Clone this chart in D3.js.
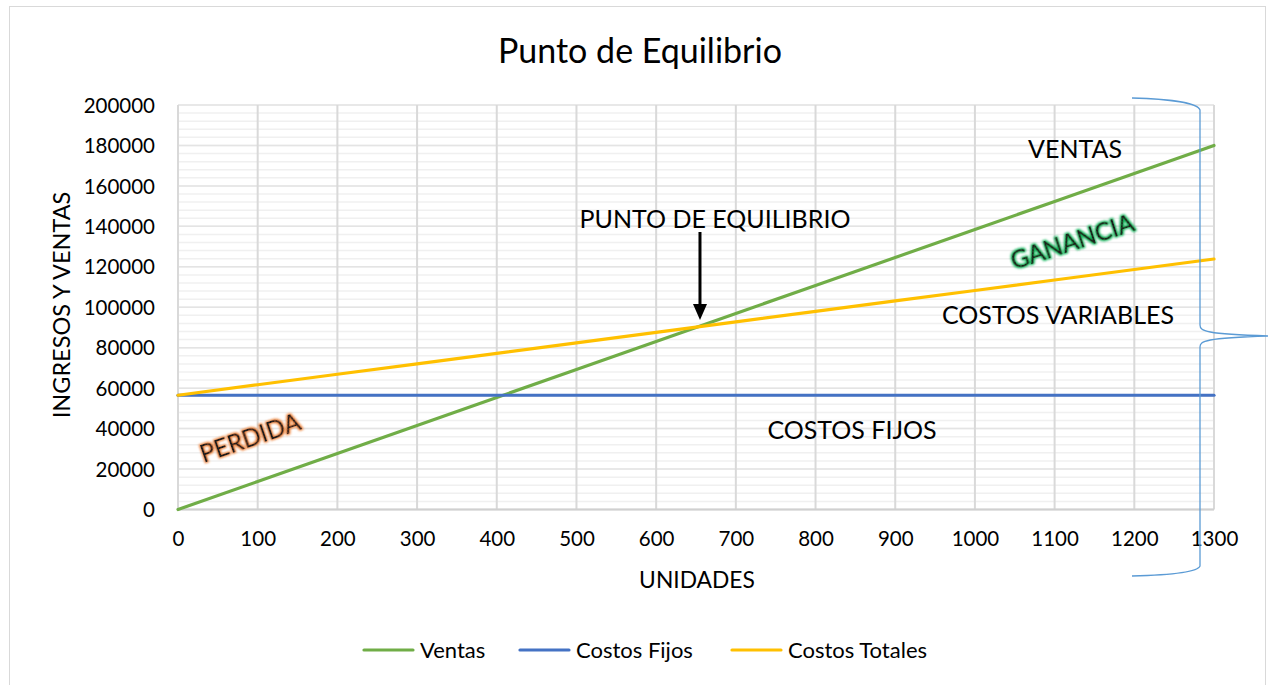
<!DOCTYPE html>
<html>
<head>
<meta charset="utf-8">
<script src="https://cdn.jsdelivr.net/npm/d3@7/dist/d3.min.js"></script>
<style>
  html, body { margin: 0; padding: 0; background: #fff; }
  svg { display: block; font-family: "Lato", "Open Sans", sans-serif; }
</style>
</head>
<body>
<svg id="chart" width="1268" height="685"></svg>
<script>
// Break-even data (units on x, money on y)
const unidades = [0, 100, 200, 300, 400, 500, 600, 700, 800, 900, 1000, 1100, 1200, 1300];
const ventas = [0, 13846, 27692, 41538, 55385, 69231, 83077, 96923, 110769, 124615, 138462, 152308, 166154, 180000];
const costosFijos = [56500, 56500, 56500, 56500, 56500, 56500, 56500, 56500, 56500, 56500, 56500, 56500, 56500, 56500];
const costosTotales = [56500, 61680, 66860, 72040, 77220, 82400, 87580, 92760, 97940, 103120, 108300, 113480, 118660, 123840];
const yTicks = [0, 20000, 40000, 60000, 80000, 100000, 120000, 140000, 160000, 180000, 200000];
const xTicks = [0, 100, 200, 300, 400, 500, 600, 700, 800, 900, 1000, 1100, 1200, 1300];
const seriesNames = ["Ventas", "Costos Fijos", "Costos Totales"];
const seriesColors = ["#70ad47", "#4472c4", "#ffc000"];

const svg = d3.select("#chart");
const plot = { left: 178, right: 1214, top: 105, bottom: 509.5 };

// chart frame
svg.append("rect").attr("x", 9.5).attr("y", 6.5).attr("width", 1256).attr("height", 690)
  .attr("fill", "#fff").attr("stroke", "#d9d9d9").attr("stroke-width", 1);

const x = d3.scaleLinear().domain([0, 1300]).range([plot.left, plot.right]);
const y = d3.scaleLinear().domain([0, 200000]).range([plot.bottom, plot.top]);

// minor horizontal gridlines
const minor = d3.range(0, 200001, 4000);
svg.append("g").selectAll("line").data(minor).join("line")
  .attr("x1", plot.left).attr("x2", plot.right)
  .attr("y1", d => y(d)).attr("y2", d => y(d))
  .attr("stroke", "#f0f0f0").attr("stroke-width", 1.5);

// major gridlines
svg.append("g").selectAll("line").data(yTicks).join("line")
  .attr("x1", plot.left).attr("x2", plot.right)
  .attr("y1", d => y(d)).attr("y2", d => y(d))
  .attr("stroke", "#e4e4e4").attr("stroke-width", 1.5);
svg.append("g").selectAll("line").data(xTicks).join("line")
  .attr("x1", d => x(d)).attr("x2", d => x(d))
  .attr("y1", plot.top).attr("y2", plot.bottom)
  .attr("stroke", "#d9d9d9").attr("stroke-width", 2);

// axis line
svg.append("line").attr("x1", plot.left).attr("x2", plot.right)
  .attr("y1", plot.bottom).attr("y2", plot.bottom)
  .attr("stroke", "#d0d0d0").attr("stroke-width", 2);

// y axis labels
const yAxis = d3.axisLeft(y).tickValues(yTicks).tickSize(0).tickPadding(0).tickFormat(d => String(d));
const gy = svg.append("g").attr("transform", `translate(155,0)`).call(yAxis);
gy.select(".domain").remove();
gy.selectAll("text").attr("font-size", 20.5).attr("fill", "#000")
  .attr("font-family", "Lato, sans-serif").attr("dy", "0.35em");

// x axis labels
const xAxis = d3.axisBottom(x).tickValues(xTicks).tickSize(0).tickPadding(0).tickFormat(d => String(d));
const gx = svg.append("g").attr("transform", `translate(0,${plot.bottom + 22})`).call(xAxis);
gx.select(".domain").remove();
gx.selectAll("text").attr("font-size", 20.5).attr("fill", "#000")
  .attr("font-family", "Lato, sans-serif").attr("dy", "0.72em");

// series lines
const allSeries = [ventas, costosFijos, costosTotales];
const line = d3.line().x((d, i) => x(unidades[i])).y(d => y(d));
allSeries.forEach((s, k) => {
  svg.append("path").datum(s).attr("d", line)
    .attr("fill", "none").attr("stroke", seriesColors[k])
    .attr("stroke-width", 3.2).attr("stroke-linecap", "round");
});

// titles
svg.append("text").attr("x", 640).attr("y", 63).attr("text-anchor", "middle")
  .attr("font-size", 34).attr("fill", "#000").text("Punto de Equilibrio");
svg.append("text").attr("x", 697).attr("y", 588).attr("text-anchor", "middle")
  .attr("font-size", 22.8).attr("fill", "#000").text("UNIDADES");
svg.append("text").attr("transform", "translate(70,305) rotate(-90)").attr("text-anchor", "middle")
  .attr("font-size", 23.5).attr("fill", "#000").text("INGRESOS Y VENTAS");

// annotations
const notes = [
  { t: "VENTAS", x: 1075, y: 158 },
  { t: "COSTOS VARIABLES", x: 1058, y: 324 },
  { t: "COSTOS FIJOS", x: 852, y: 439 },
  { t: "PUNTO DE EQUILIBRIO", x: 715, y: 228 }
];
svg.append("g").selectAll("text").data(notes).join("text")
  .attr("x", d => d.x).attr("y", d => d.y).attr("text-anchor", "middle")
  .attr("font-size", 25).attr("fill", "#000").text(d => d.t);

// arrow to the break-even point
const beX = x(655);
svg.append("line").attr("x1", beX).attr("x2", beX).attr("y1", 232).attr("y2", 306)
  .attr("stroke", "#000").attr("stroke-width", 3);
svg.append("path").attr("d", `M${beX - 7},304 L${beX + 7},304 L${beX},320 Z`).attr("fill", "#000");

// glowing region labels
const defs = svg.append("defs");
[["glowOrange", "#ed7d31"], ["glowGreen", "#00b050"]].forEach(([id, c]) => {
  const f = defs.append("filter").attr("id", id).attr("x", "-20%").attr("y", "-40%").attr("width", "140%").attr("height", "180%");
  f.append("feMorphology").attr("in", "SourceAlpha").attr("operator", "dilate").attr("radius", 0.8).attr("result", "d");
  f.append("feGaussianBlur").attr("in", "d").attr("stdDeviation", 0.9).attr("result", "b");
  f.append("feFlood").attr("flood-color", c).attr("flood-opacity", 0.95);
  f.append("feComposite").attr("in2", "b").attr("operator", "in").attr("result", "g");
  const m = f.append("feMerge");
  m.append("feMergeNode").attr("in", "g");
  m.append("feMergeNode").attr("in", "SourceGraphic");
});
svg.append("text").attr("transform", "translate(253,446) rotate(-19)").attr("text-anchor", "middle")
  .attr("font-size", 24.5).attr("fill", "#1a1a1a").attr("filter", "url(#glowOrange)").text("PERDIDA");
svg.append("text").attr("transform", "translate(1075,250) rotate(-18)").attr("text-anchor", "middle")
  .attr("font-size", 24.5).attr("fill", "#1a1a1a").attr("filter", "url(#glowGreen)").text("GANANCIA");

// curly brace on the right
svg.append("path")
  .attr("d", "M1132,98 C1170,99 1198,103 1200,110 L1200,325 C1200,331 1205,334 1268,336 C1205,338 1200,341 1200,347 L1200,566 C1198,572 1170,575 1132,576")
  .attr("fill", "none").attr("stroke", "#5b9bd5").attr("stroke-width", 1.3);

// legend
const legendItems = [
  { name: seriesNames[0], color: seriesColors[0], x: 364 },
  { name: seriesNames[1], color: seriesColors[1], x: 520 },
  { name: seriesNames[2], color: seriesColors[2], x: 732 }
];
const lg = svg.append("g").selectAll("g").data(legendItems).join("g")
  .attr("transform", d => `translate(${d.x},650)`);
lg.append("line").attr("x1", 0).attr("x2", 49).attr("y1", 0).attr("y2", 0)
  .attr("stroke", d => d.color).attr("stroke-width", 3.2).attr("stroke-linecap", "round");
lg.append("text").attr("x", 56).attr("y", 0).attr("dy", "0.35em")
  .attr("font-size", 22).attr("fill", "#000").text(d => d.name);
</script>
</body>
</html>
